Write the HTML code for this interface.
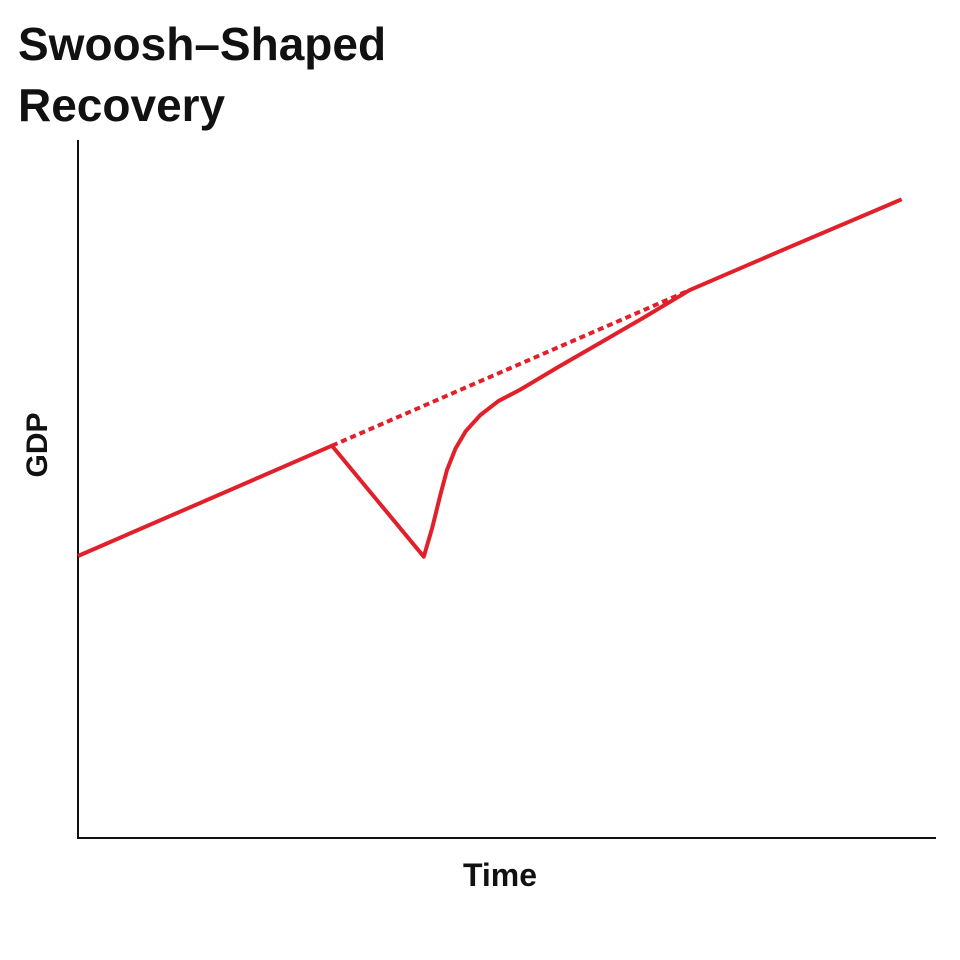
<!DOCTYPE html>
<html>
<head>
<meta charset="utf-8">
<style>
  html,body{margin:0;padding:0;background:#fff;}
  body{width:960px;height:960px;overflow:hidden;}
  svg{display:block;}
  text{font-family:"Liberation Sans",sans-serif;font-weight:bold;fill:#111;}
</style>
</head>
<body>
<svg id="chart" width="960" height="960" viewBox="0 0 960 960">
  <text x="18" y="60" font-size="46">Swoosh–Shaped</text>
  <text x="18" y="121" font-size="46">Recovery</text>
  <line x1="78" y1="140" x2="78" y2="839" stroke="#111" stroke-width="2"/>
  <line x1="77" y1="838" x2="936" y2="838" stroke="#111" stroke-width="2"/>
  <text x="0" y="0" font-size="30" text-anchor="middle" transform="translate(47,445) rotate(-90)">GDP</text>
  <text x="500" y="886" font-size="32" text-anchor="middle">Time</text>
  <g id="marks"></g>
</svg>
<script>
const actualTime = [0, 29.6, 40.3, 41.3, 42.2, 43.0, 44.0, 45.2, 46.9, 49.0, 51.5, 56.0, 60.8, 66.0, 71.3, 83.0, 96.0];
const actualGDP  = [40.4, 56.2, 40.3, 44.5, 49.0, 52.7, 55.8, 58.3, 60.6, 62.6, 64.2, 67.5, 70.9, 74.6, 78.5, 84.7, 91.5];
const trendTime  = [29.6, 71.3];
const trendGDP   = [56.2, 78.5];

function xScale(t){ return 78 + t * 8.58; }
function yScale(g){ return 838 - g * 6.98; }

const ns = "http://www.w3.org/2000/svg";
const marks = document.getElementById("marks");

const trend = document.createElementNS(ns, "polyline");
trend.setAttribute("points", trendTime.map((t,i)=>xScale(t)+","+yScale(trendGDP[i])).join(" "));
trend.setAttribute("fill", "none");
trend.setAttribute("stroke", "#e0202a");
trend.setAttribute("stroke-width", "4");
trend.setAttribute("stroke-dasharray", "6 4");


marks.appendChild(trend);

const actual = document.createElementNS(ns, "polyline");
actual.setAttribute("points", actualTime.map((t,i)=>xScale(t)+","+yScale(actualGDP[i])).join(" "));
actual.setAttribute("fill", "none");
actual.setAttribute("stroke", "#e0202a");
actual.setAttribute("stroke-width", "4");
actual.setAttribute("stroke-linejoin", "round");


marks.appendChild(actual);
</script>
</body>
</html>
